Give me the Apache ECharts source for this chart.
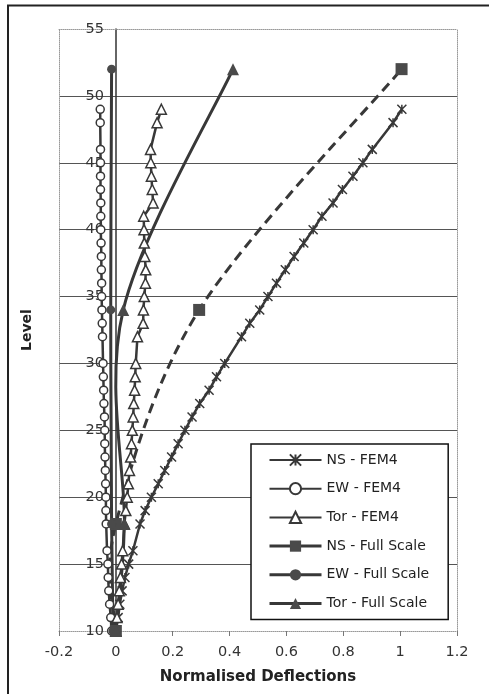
<!DOCTYPE html>
<html><head><meta charset="utf-8">
<script src="https://cdn.jsdelivr.net/npm/echarts@6/dist/echarts.min.js"></script>
<style>html,body{margin:0;padding:0;background:#fff}#c{width:489px;height:694px}</style>
</head><body><div id="c"></div>
<script>
// ---- data ----
const fem4Levels = [10,11,12,13,14,15,16,18,19,20,21,22,23,24,25,26,27,28,29,30,32,33,34,35,36,37,38,39,40,41,42,43,44,45,46,48,49];
const nsFem4  = [0,0.008,0.014,0.022,0.032,0.045,0.06,0.085,0.103,0.125,0.149,0.172,0.196,0.219,0.243,0.268,0.295,0.328,0.354,0.383,0.442,0.471,0.506,0.535,0.565,0.596,0.627,0.661,0.694,0.725,0.764,0.797,0.834,0.869,0.902,0.975,1.006];
const ewFem4  = [-0.015,-0.018,-0.022,-0.025,-0.027,-0.028,-0.031,-0.034,-0.035,-0.035,-0.036,-0.037,-0.038,-0.039,-0.039,-0.040,-0.042,-0.043,-0.044,-0.045,-0.047,-0.048,-0.049,-0.050,-0.050,-0.051,-0.051,-0.052,-0.053,-0.053,-0.053,-0.054,-0.054,-0.054,-0.054,-0.055,-0.055];
const torFem4 = [0,0.004,0.008,0.012,0.016,0.020,0.024,0.030,0.035,0.040,0.044,0.048,0.052,0.055,0.058,0.061,0.063,0.066,0.068,0.070,0.076,0.096,0.097,0.100,0.104,0.105,0.102,0.100,0.099,0.098,0.131,0.128,0.125,0.123,0.122,0.145,0.160];
const fullLevels = [10,18,34,52];
const nsFull  = [0,0,0.293,1.005];
const ewFull  = [-0.01,-0.015,-0.018,-0.015];
const torFull = [0,0.03,0.026,0.412];
const seriesNames = ['NS - FEM4','EW - FEM4','Tor - FEM4','NS - Full Scale','EW - Full Scale','Tor - Full Scale'];

const zip = (xs, ys) => xs.map((x, i) => [x, ys[i]]);
const FONT = 'DejaVu Sans';
const ink = '#383838';
const fillInk = '#4a4a4a';
const star = 'path://M0,0L10,10M10,0L0,10M5,0L5,10';

// Spreadsheet-style smoothed curve (Bezier, control points = neighbour difference / 6),
// positioned through the chart's own coordinate conversion (api.coord).
function smoothCurve(xs, ys, dash) {
  return function (params, api) {
    const p = xs.map((x, k) => api.coord([x, ys[k]]));
    const n = p.length;
    let d = 'M' + p[0][0] + ' ' + p[0][1];
    for (let i = 0; i < n - 1; i++) {
      const p0 = p[Math.max(i - 1, 0)], p1 = p[i], p2 = p[i + 1], p3 = p[Math.min(i + 2, n - 1)];
      const c1x = p1[0] + (p2[0] - p0[0]) / 6, c1y = p1[1] + (p2[1] - p0[1]) / 6;
      const c2x = p2[0] - (p3[0] - p1[0]) / 6, c2y = p2[1] - (p3[1] - p1[1]) / 6;
      d += ' C' + c1x + ' ' + c1y + ' ' + c2x + ' ' + c2y + ' ' + p2[0] + ' ' + p2[1];
    }
    return {
      type: 'path',
      shape: {pathData: d},
      style: {stroke: ink, lineWidth: 3, fill: null, lineDash: dash || null}
    };
  };
}

const chart = echarts.init(document.getElementById('c'), null, {renderer: 'canvas'});
const option = {
  animation: false,
  backgroundColor: '#fff',
  textStyle: {fontFamily: FONT},
  grid: {left: 59, right: 32, top: 29, bottom: 63, containLabel: false, outerBoundsMode: 'none'},
  xAxis: [{
    type: 'value', min: -0.2, max: 1.2, interval: 0.2, position: 'bottom',
    name: 'Normalised Deflections', nameLocation: 'middle', nameGap: 39,
    nameTextStyle: {fontWeight: 'bold', fontSize: 15, color: '#222', fontFamily: FONT},
    axisLine: {onZero: false, lineStyle: {color: '#999', type: 'dotted', width: 1}},
    axisTick: {show: true, length: 5, lineStyle: {color: '#777'}},
    axisLabel: {fontSize: 14.5, color: '#333', margin: 14, fontFamily: FONT},
    splitLine: {show: false}
  }, {
    type: 'value', min: -0.2, max: 1.2, interval: 0.2, position: 'top',
    axisLine: {show: true, onZero: false, lineStyle: {color: '#999', type: 'dotted', width: 1}},
    axisTick: {show: false}, axisLabel: {show: false}, splitLine: {show: false}
  }],
  yAxis: [{
    type: 'value', min: 10, max: 55, interval: 5, position: 'left',
    name: 'Level', nameLocation: 'middle', nameGap: 81, nameRotate: 90,
    nameTextStyle: {fontWeight: 'bold', fontSize: 14, color: '#222', fontFamily: FONT},
    axisLine: {show: true, onZero: false, lineStyle: {color: '#333', width: 1.5}},
    axisTick: {show: false},
    axisLabel: {fontSize: 14.5, color: '#333', margin: 12, fontFamily: FONT},
    splitLine: {show: true, showMinLine: false, showMaxLine: false, lineStyle: {color: '#555', width: 1}}
  }, {
    type: 'value', min: 10, max: 55, interval: 5, position: 'right',
    axisLine: {show: true, onZero: false, lineStyle: {color: '#999', type: 'dotted', width: 1}},
    axisTick: {show: false}, axisLabel: {show: false}, splitLine: {show: false}
  }, {
    type: 'value', min: 10, max: 55, interval: 5, position: 'left',
    axisLine: {show: true, onZero: false, lineStyle: {color: '#999', type: 'dotted', width: 1}},
    axisTick: {show: false}, axisLabel: {show: false}, splitLine: {show: false}
  }],
  legend: {
    orient: 'vertical', left: 251, top: 444,
    itemWidth: 52, itemHeight: 14, itemGap: 14.7,
    padding: [9, 19, 9, 17],
    backgroundColor: '#fff', borderColor: '#111', borderWidth: 1.5, borderRadius: 0,
    textStyle: {fontSize: 14, color: '#222', fontFamily: FONT},
    data: [
      {name: seriesNames[0]}, {name: seriesNames[1]}, {name: seriesNames[2]},
      {name: seriesNames[3], lineStyle: {type: 'solid', width: 3, color: ink, opacity: 1}},
      {name: seriesNames[4], lineStyle: {type: 'solid', width: 3, color: ink, opacity: 1}},
      {name: seriesNames[5], lineStyle: {type: 'solid', width: 3, color: ink, opacity: 1}}
    ]
  },
  graphic: [
    {type: 'line', silent: true, shape: {x1: 7, y1: 5.5, x2: 489, y2: 5.5}, style: {stroke: '#222', lineWidth: 2}},
    {type: 'line', silent: true, shape: {x1: 8, y1: 5, x2: 8, y2: 694}, style: {stroke: '#222', lineWidth: 2}}
  ],
  series: [{
    name: seriesNames[0], type: 'line', data: zip(nsFem4, fem4Levels),
    symbol: star, symbolSize: 9,
    lineStyle: {color: ink, width: 2.5},
    itemStyle: {color: ink, borderColor: ink, borderWidth: 1.5}
  }, {
    name: seriesNames[1], type: 'line', data: zip(ewFem4, fem4Levels),
    symbol: 'circle', symbolSize: 8,
    lineStyle: {color: ink, width: 2.5},
    itemStyle: {color: '#fff', borderColor: ink, borderWidth: 1.5}
  }, {
    name: seriesNames[2], type: 'line', data: zip(torFem4, fem4Levels),
    symbol: 'triangle', symbolSize: [10, 10],
    lineStyle: {color: ink, width: 2.5},
    itemStyle: {color: '#fff', borderColor: ink, borderWidth: 1.5}
  }, {
    name: 'curve-ns', type: 'custom', data: [[nsFull[0], fullLevels[0]]],
    renderItem: smoothCurve(nsFull, fullLevels, [10, 6]), clip: false, silent: true
  }, {
    name: 'curve-ew', type: 'custom', data: [[ewFull[0], fullLevels[0]]],
    renderItem: smoothCurve(ewFull, fullLevels), clip: false, silent: true
  }, {
    name: 'curve-tor', type: 'custom', data: [[torFull[0], fullLevels[0]]],
    renderItem: smoothCurve(torFull, fullLevels), clip: false, silent: true
  }, {
    name: seriesNames[3], type: 'line', data: zip(nsFull, fullLevels),
    symbol: 'rect', symbolSize: 12,
    lineStyle: {width: 0, opacity: 0},
    itemStyle: {color: fillInk, borderColor: fillInk, borderWidth: 0}
  }, {
    name: seriesNames[4], type: 'line', data: zip(ewFull, fullLevels),
    symbol: 'circle', symbolSize: 9,
    lineStyle: {width: 0, opacity: 0},
    itemStyle: {color: fillInk, borderColor: fillInk, borderWidth: 0}
  }, {
    name: seriesNames[5], type: 'line', data: zip(torFull, fullLevels),
    symbol: 'triangle', symbolSize: 12,
    lineStyle: {width: 0, opacity: 0},
    itemStyle: {color: fillInk, borderColor: fillInk, borderWidth: 0}
  }]
};
chart.setOption(option);
// Put the value axis (line, labels, name) at x = 0, as in the reference.
const xZero = chart.convertToPixel({xAxisIndex: 0}, 0);
const xMin = chart.convertToPixel({xAxisIndex: 0}, -0.2);
chart.setOption({yAxis: [{offset: xMin - xZero}]});
</script>
</body></html>
